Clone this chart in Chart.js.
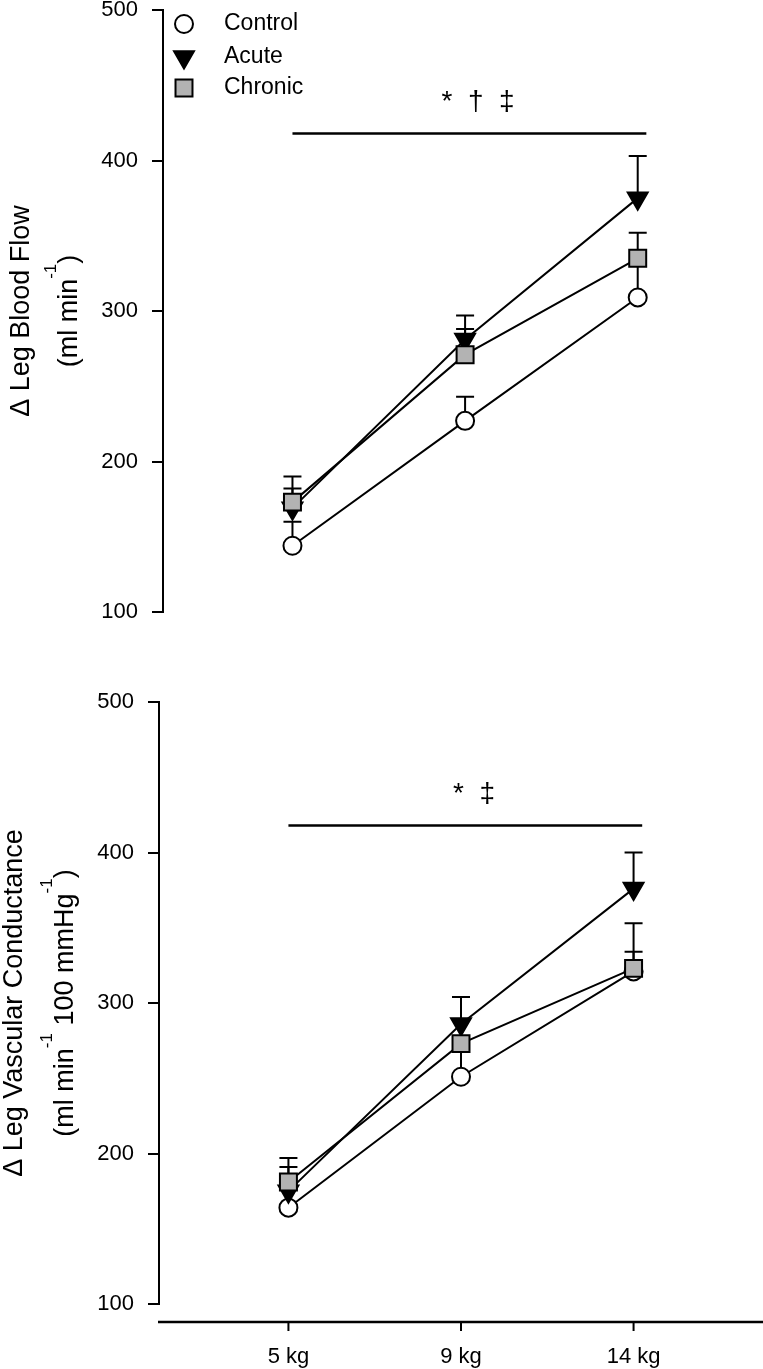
<!DOCTYPE html>
<html lang="en">
<head>
    <meta charset="UTF-8">
    <title>leg blood flow</title>
    <script src="https://cdn.jsdelivr.net/npm/chart.js@4.4.0/dist/chart.umd.min.js"></script>
    <style>
        html, body {margin: 0; padding: 0; background: #fff; overflow: hidden;}
        #wrap {position: relative; width: 763px; height: 1369px; overflow: hidden;}
        #topChart {position: absolute; left: 0; top: -20px;}
        #bottomChart {position: absolute; left: 0; top: 670px;}
    </style>
</head>
<body>
    <div id="wrap">
        <canvas id="topChart" width="763" height="670"></canvas>
        <canvas id="bottomChart" width="763" height="699"></canvas>
    </div>

    <script>
        const loads = ['5 kg', '9 kg', '14 kg'];
        const seriesNames = ['Control', 'Acute', 'Chronic'];
        const yTicks = [100, 200, 300, 400, 500];

        // top: delta leg blood flow (ml/min), means + upper SE
        const flowControl = [144, 227, 309];
        const flowAcute = [169, 281, 375];
        const flowChronic = [173, 271, 335];
        const flowControlErr = [16, 16, 22];
        const flowAcuteErr = [13, 16, 28];
        const flowChronicErr = [17, 17, 17];

        // bottom: delta leg vascular conductance
        const condControl = [164, 251, 321];
        const condAcute = [175, 286, 376];
        const condChronic = [181, 273, 323];
        const condControlErr = [12, 20, 13];
        const condAcuteErr = [16, 18, 24];
        const condChronicErr = [16, 15, 30];

        // significance bar over the three loads
        const sigSpan = [0, 2.05];
        const sigLevel = 418;
        const sigLabelLevel = 439;
        const sigLabelAt = 1.075;
        const flowSigText = '*  \u2020  \u2021';
        const condSigText = '*  \u2021';

        const FONT = '"Liberation Sans", Arial, sans-serif';

        const styles = [
            {pointStyle: 'circle', radius: 9, rotation: 0, fill: '#ffffff', order: 3},
            {pointStyle: 'triangle', radius: 11.5, rotation: 180, fill: '#000000', order: 2},
            {pointStyle: 'rect', radius: 12, rotation: 0, fill: '#b3b3b3', order: 1}
        ];

        function makeSets(values, errors, sigText) {
            const sets = values.map(function (vals, i) {
                const st = styles[i];
                return {
                    label: seriesNames[i],
                    data: vals.map(function (v, j) { return {x: j, y: v}; }),
                    errors: errors[i],
                    borderColor: '#000',
                    borderWidth: 2,
                    pointStyle: st.pointStyle,
                    pointRadius: st.radius,
                    pointRotation: st.rotation,
                    pointBackgroundColor: st.fill,
                    pointBorderColor: '#000',
                    pointBorderWidth: 2,
                    order: st.order
                };
            });
            sets.push({
                label: sigText,
                data: sigSpan.map(function (x) { return {x: x, y: sigLevel}; }),
                borderColor: '#000',
                borderWidth: 2.5,
                pointRadius: 0,
                order: 0
            });
            return sets;
        }

        // upward SE whiskers, drawn just under each series
        const errorBars = {
            id: 'errorBars',
            beforeDatasetDraw(chart, args) {
                const ds = chart.data.datasets[args.index];
                if (!ds.errors) return;
                const ctx = chart.ctx;
                const y = chart.scales.y;
                ctx.save();
                ctx.strokeStyle = '#000';
                ctx.lineWidth = 2;
                args.meta.data.forEach(function (pt, j) {
                    const top = y.getPixelForValue(ds.data[j].y + ds.errors[j]);
                    ctx.beginPath();
                    ctx.moveTo(pt.x, pt.y);
                    ctx.lineTo(pt.x, top);
                    ctx.moveTo(pt.x - 9, top);
                    ctx.lineTo(pt.x + 9, top);
                    ctx.stroke();
                });
                ctx.restore();
            }
        };

        function drawRotated(ctx, parts, x, cy) {
            let total = 0;
            const widths = parts.map(function (p) {
                ctx.font = (p[1] ? '17px ' : '27px ') + FONT;
                const w = ctx.measureText(p[0]).width;
                total += w;
                return w;
            });
            ctx.save();
            ctx.translate(x, cy);
            ctx.rotate(-Math.PI / 2);
            ctx.textAlign = 'left';
            ctx.textBaseline = 'alphabetic';
            let pos = -total / 2;
            parts.forEach(function (p, i) {
                ctx.font = (p[1] ? '17px ' : '27px ') + FONT;
                ctx.fillText(p[0], pos, p[1] ? -21 : 0);
                pos += widths[i];
            });
            ctx.restore();
        }

        function drawMarker(ctx, st, x, y) {
            const r = st.radius;
            ctx.beginPath();
            if (st.pointStyle === 'circle') {
                ctx.arc(x, y, r, 0, Math.PI * 2);
            } else if (st.pointStyle === 'triangle') {
                ctx.moveTo(x, y + r);
                ctx.lineTo(x - r * Math.sin(Math.PI / 3), y - r / 2);
                ctx.lineTo(x + r * Math.sin(Math.PI / 3), y - r / 2);
                ctx.closePath();
            } else {
                const h = r * Math.SQRT1_2;
                ctx.rect(x - h, y - h, 2 * h, 2 * h);
            }
            ctx.fillStyle = st.fill;
            ctx.fill();
            ctx.stroke();
        }

        const decor = {
            id: 'decor',
            afterDraw(chart, args, opts) {
                const ctx = chart.ctx;
                const area = chart.chartArea;
                const xs = chart.scales.x;
                const ys = chart.scales.y;
                ctx.save();
                ctx.fillStyle = '#000';
                ctx.strokeStyle = '#000';

                ctx.font = '28px ' + FONT;
                ctx.textAlign = 'center';
                ctx.textBaseline = 'middle';
                ctx.fillText(opts.sigText, xs.getPixelForValue(sigLabelAt), ys.getPixelForValue(sigLabelLevel));

                opts.title.forEach(function (line) {
                    ctx.fillStyle = '#000';
                    drawRotated(ctx, line.parts, line.x, (area.top + area.bottom) / 2);
                });

                if (opts.legend) {
                    ctx.lineWidth = 2;
                    const rows = [14, 47, 78];
                    seriesNames.forEach(function (name, i) {
                        const y = area.top + rows[i];
                        drawMarker(ctx, styles[i], area.left + 21, y);
                        ctx.fillStyle = '#000';
                        ctx.font = '23px ' + FONT;
                        ctx.textAlign = 'left';
                        ctx.textBaseline = 'middle';
                        ctx.fillText(name, area.left + 61, y);
                    });
                }

                if (opts.xLine) {
                    const y = area.bottom + 18;
                    ctx.lineWidth = 2.5;
                    ctx.beginPath();
                    ctx.moveTo(area.left - 1, y);
                    ctx.lineTo(chart.width, y);
                    ctx.stroke();
                    ctx.lineWidth = 2;
                    xs.ticks.forEach(function (t) {
                        const px = xs.getPixelForValue(t.value);
                        ctx.beginPath();
                        ctx.moveTo(px, y);
                        ctx.lineTo(px, y + 9);
                        ctx.stroke();
                    });
                }
                ctx.restore();
            }
        };

        function yScale(width) {
            return {
                type: 'linear',
                min: 100,
                max: 500,
                afterFit: function (scale) { scale.width = width; },
                afterBuildTicks: function (scale) {
                    scale.ticks = yTicks.map(function (v) { return {value: v}; });
                },
                ticks: {color: '#000', font: {family: FONT, size: 22}, padding: 14},
                grid: {drawOnChartArea: false, drawTicks: true, tickLength: 11, color: '#000', lineWidth: 2},
                border: {display: true, color: '#000', width: 2}
            };
        }

        const topChart = new Chart(document.getElementById('topChart').getContext('2d'), {
            type: 'line',
            data: {
                datasets: makeSets([flowControl, flowAcute, flowChronic],
                    [flowControlErr, flowAcuteErr, flowChronicErr], flowSigText)
            },
            options: {
                responsive: false,
                animation: false,
                layout: {autoPadding: false, padding: {top: 30, bottom: 38, left: 0, right: 1}},
                plugins: {
                    legend: {display: false},
                    tooltip: {enabled: false},
                    decor: {
                        sigText: flowSigText,
                        legend: true,
                        xLine: false,
                        title: [
                            {x: 29, parts: [['\u0394 Leg Blood Flow', false]]},
                            {x: 77, parts: [['(ml min', false], ['-1', true], [')', false]]}
                        ]
                    }
                },
                scales: {
                    x: {type: 'linear', display: false, min: -0.75, max: 2.72},
                    y: yScale(163)
                }
            },
            plugins: [errorBars, decor]
        });

        const bottomChart = new Chart(document.getElementById('bottomChart').getContext('2d'), {
            type: 'line',
            data: {
                datasets: makeSets([condControl, condAcute, condChronic],
                    [condControlErr, condAcuteErr, condChronicErr], condSigText)
            },
            options: {
                responsive: false,
                animation: false,
                layout: {autoPadding: false, padding: {top: 32, bottom: 0, left: 0, right: 0}},
                plugins: {
                    legend: {display: false},
                    tooltip: {enabled: false},
                    decor: {
                        sigText: condSigText,
                        legend: false,
                        xLine: true,
                        title: [
                            {x: 22, parts: [['\u0394 Leg Vascular Conductance', false]]},
                            {x: 73, parts: [['(ml min', false], ['-1', true], [' 100 mmHg', false], ['-1', true], [')', false]]}
                        ]
                    }
                },
                scales: {
                    x: {
                        type: 'linear',
                        min: -0.75,
                        max: 2.75,
                        afterFit: function (scale) { scale.height = 65; },
                        afterBuildTicks: function (scale) {
                            scale.ticks = loads.map(function (l, i) { return {value: i}; });
                        },
                        ticks: {
                            color: '#000',
                            font: {family: FONT, size: 22},
                            padding: 40,
                            maxRotation: 0,
                            callback: function (v) { return loads[v] || ''; }
                        },
                        grid: {display: false, drawTicks: false},
                        border: {display: false}
                    },
                    y: yScale(159)
                }
            },
            plugins: [errorBars, decor]
        });
    </script>
</body>
</html>
